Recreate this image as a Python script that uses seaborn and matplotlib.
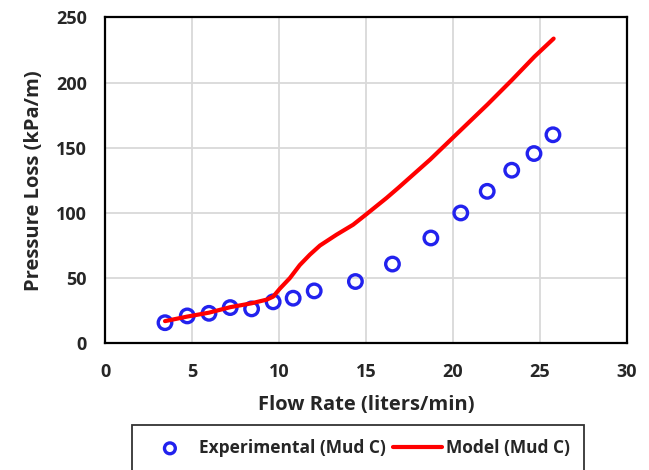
import matplotlib
matplotlib.use("Agg")
import matplotlib.pyplot as plt
import seaborn as sns
import pandas as pd

# Measured pressure loss for Mud C
exp_flow = [3.45, 4.73, 5.98, 7.20, 8.43, 9.67, 10.82, 12.03, 14.40, 16.53,
            18.74, 20.46, 21.98, 23.39, 24.67, 25.76]
exp_loss = [15.8, 21.0, 23.0, 27.4, 26.4, 31.8, 34.6, 40.2, 47.4, 60.8,
            80.8, 100.0, 116.6, 132.8, 145.6, 160.0]

# Model prediction for Mud C
model_flow = [3.45, 4.73, 5.98, 7.20, 8.43, 9.30, 9.67, 10.06, 10.63, 11.20,
              11.78, 12.36, 13.31, 14.27, 15.00, 16.19, 16.86, 18.70, 20.00,
              22.00, 23.40, 24.70, 25.80]
model_loss = [17.0, 20.5, 23.5, 27.7, 30.7, 33.5, 35.8, 42.0, 50.0, 60.0,
              68.0, 75.0, 83.3, 91.0, 98.7, 111.5, 119.2, 141.0, 157.7,
              183.3, 202.0, 220.0, 233.8]

x_ticks = [0, 5, 10, 15, 20, 25, 30]
y_ticks = [0, 50, 100, 150, 200, 250]

exp_df = pd.DataFrame({"flow": exp_flow, "loss": exp_loss})
model_df = pd.DataFrame({"flow": model_flow, "loss": model_loss})

sns.set_theme(style="white")
plt.rcParams["font.family"] = ["Open Sans", "DejaVu Sans"]
plt.rcParams["font.weight"] = "bold"

fig = plt.figure(figsize=(6.49, 4.70), dpi=100)
ax = fig.add_axes([0.1618, 0.2696, 0.9656 - 0.1618, 0.9628 - 0.2696])

ax.grid(True, color="#D9D9D9", linewidth=1.3)
ax.set_axisbelow(True)

sns.scatterplot(data=exp_df, x="flow", y="loss", ax=ax, marker="o",
                s=95, facecolor="none", edgecolor="#2222EE", linewidth=2.4,
                label="Experimental (Mud C)", zorder=3)
sns.lineplot(data=model_df, x="flow", y="loss", ax=ax, color="#FF0000",
             linewidth=3.0, label="Model (Mud C)", zorder=4)

ax.set_xlim(0, 30)
ax.set_ylim(0, 250)
ax.set_xticks(x_ticks)
ax.set_yticks(y_ticks)
ax.tick_params(axis="both", length=0, labelsize=13)
ax.tick_params(axis="x", pad=14)
ax.tick_params(axis="y", pad=13)
for lbl in ax.get_xticklabels() + ax.get_yticklabels():
    lbl.set_fontweight("bold")

for sp in ax.spines.values():
    sp.set_visible(True)
    sp.set_color("black")
    sp.set_linewidth(1.6)

ax.set_xlabel("Flow Rate (liters/min)", fontsize=14.5, fontweight="bold", labelpad=10)
ax.set_ylabel("Pressure Loss (kPa/m)", fontsize=14.5, fontweight="bold", labelpad=9)

leg = ax.legend(loc="upper left", bbox_to_anchor=(131.7 / 649, 1 - 425 / 470),
                bbox_transform=fig.transFigure, ncol=2, frameon=True,
                fancybox=False, edgecolor="black", fontsize=12.5,
                borderpad=0.8, handlelength=2.8, handletextpad=0.25,
                columnspacing=0.45, borderaxespad=0, markerscale=0.8)
leg.get_frame().set_linewidth(1.3)
for t in leg.get_texts():
    t.set_fontweight("bold")

fig.savefig("out.png", dpi=100)
